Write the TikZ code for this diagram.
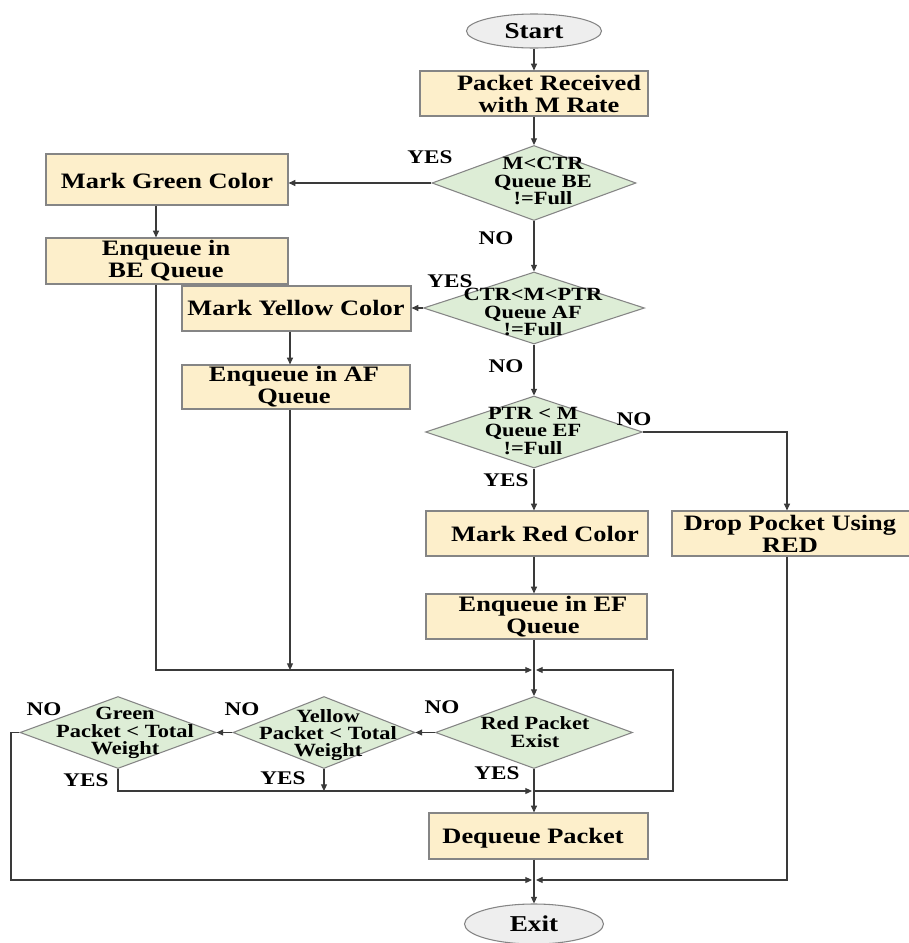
\documentclass[tikz,border=0pt]{standalone}
\usepackage{fontspec}
\setmainfont{Liberation Serif}[FakeStretch=1.2]
\usetikzlibrary{shapes.geometric,arrows.meta}
\definecolor{boxfill}{HTML}{FDEFCB}
\definecolor{diafill}{HTML}{DDEDD6}
\definecolor{ellfill}{HTML}{EEEEEE}
\definecolor{edgec}{HTML}{858585}
\definecolor{wirec}{HTML}{3A3A3A}
\begin{document}
\begin{tikzpicture}[x=0.75pt,y=-0.75pt,
 box/.style={draw=edgec, line width=0.9pt, fill=boxfill, inner sep=0pt},
 dia/.style={draw=edgec, line width=0.8pt, fill=diafill, diamond, inner sep=0pt},
 ell/.style={draw=edgec, line width=0.8pt, fill=ellfill, ellipse, inner sep=0pt, font=\bfseries\fontsize{17}{13}\selectfont},
 bt/.style={font=\bfseries\fontsize{16.5}{16.5}\selectfont, align=center, inner sep=0pt},
 dt/.style={font=\bfseries\fontsize{14}{13}\selectfont, align=center, inner sep=0pt},
 lab/.style={font=\bfseries\fontsize{14.5}{15}\selectfont, inner sep=0pt},
 wire/.style={draw=wirec, line width=0.8pt},
 arr/.style={wire, -{Triangle[length=5pt,width=4.5pt]}},
]
\useasboundingbox (0,0) rectangle (909,943);

% nodes
\node[ell, minimum width={135*0.75pt}, minimum height={34*0.75pt}] (start) at (534,31) {Start};

\node[box, minimum width={228*0.75pt}, minimum height={45*0.75pt}] (rec) at (534,93.5) {};
\node[bt] (rect) at (549,94) {Packet Received\\with M Rate};

\node[dia, minimum width={204*0.75pt}, minimum height={75*0.75pt}] (d1) at (534,183) {};
\node[dt] (d1t) at (543,181) {M<CTR\\Queue BE\\!=Full};

\node[box, minimum width={242*0.75pt}, minimum height={51*0.75pt}] (green) at (167,179.5) {};
\node[bt] (greent) at (167,181) {Mark Green Color};

\node[box, minimum width={242*0.75pt}, minimum height={46*0.75pt}] (beq) at (167,261) {};
\node[bt] (beqt) at (166,261) {Enqueue in\\BE Queue};

\node[dia, minimum width={221*0.75pt}, minimum height={72*0.75pt}] (d2) at (534,308) {};
\node[dt] (d2t) at (533,312) {CTR<M<PTR\\Queue AF\\!=Full};

\node[box, minimum width={229*0.75pt}, minimum height={45*0.75pt}] (yellow) at (296.5,308.5) {};
\node[bt] (yellowt) at (296,308) {Mark Yellow Color};

\node[box, minimum width={228*0.75pt}, minimum height={44*0.75pt}] (afq) at (296,387) {};
\node[bt] (afqt) at (294,387) {Enqueue in AF\\Queue};

\node[dia, minimum width={217*0.75pt}, minimum height={72*0.75pt}] (d3) at (534,432) {};
\node[dt] (d3t) at (533,431) {PTR < M\\Queue EF\\!=Full};

\node[box, minimum width={222*0.75pt}, minimum height={45*0.75pt}] (red) at (537,533.5) {};
\node[bt] (redt) at (545,533.5) {Mark Red Color};

\node[box, minimum width={240*0.75pt}, minimum height={45*0.75pt}] (drop) at (792,533.5) {};
\node[bt] (dropt) at (790,533.5) {Drop Pocket Using\\RED};

\node[box, minimum width={221*0.75pt}, minimum height={45*0.75pt}] (efq) at (536.5,616.5) {};
\node[bt] (efqt) at (543,616.5) {Enqueue in EF\\Queue};

\node[dia, minimum width={197*0.75pt}, minimum height={72*0.75pt}] (rd) at (534,732.5) {};
\node[dt] (rdt) at (535,732) {Red Packet\\Exist};

\node[dia, minimum width={182*0.75pt}, minimum height={72*0.75pt}] (yd) at (324,732.5) {};
\node[dt] (ydt) at (328,735) {Yellow\\Packet < Total\\Weight};

\node[dia, minimum width={196*0.75pt}, minimum height={72*0.75pt}] (gd) at (118,732.5) {};
\node[dt] (gdt) at (125,733) {Green\\Packet < Total\\Weight};

\node[box, minimum width={219*0.75pt}, minimum height={46*0.75pt}] (deq) at (538.5,836) {};
\node[bt] (deqt) at (533,838) {Dequeue Packet};

\node[ell, minimum width={139*0.75pt}, minimum height={40*0.75pt}] (exit) at (534,924) {Exit};

% helper coordinates
\coordinate (j1) at (534,670);
\coordinate (j3) at (534,791);
\coordinate (j2) at (534,880);
\coordinate (gx) at (156,0);
\coordinate (yx) at (290,0);
\coordinate (rx) at (673,0);
\coordinate (lx) at (11,0);
\coordinate (dx) at (787,0);

% connectors
\draw[arr] (start) -- (rec);
\draw[arr] (rec) -- (d1);
\draw[arr] (d1.west) -- (d1.west -| green.east);
\draw[arr] (d1) -- (d2);
\draw[arr] (green.south -| gx) -- (beq.north -| gx);
\draw[arr] (d2.west) -- (d2.west -| yellow.east);
\draw[arr] (yellow.south -| yx) -- (afq.north -| yx);
\draw[arr] (d2) -- (d3);
\draw[arr] (d3.east) -| (drop.north -| dx);
\draw[arr] (d3) -- (red.north -| d3);
\draw[arr] (red.south -| d3) -- (efq.north -| d3);
\draw[arr] (efq.south -| d3) -- (rd.north);
\draw[arr, shorten >=1.5pt] (beq.south -| gx) |- (j1);
\draw[arr] (afq.south -| yx) -- (yx |- j1);
\draw[arr, shorten >=1.5pt] (j3) -| (rx |- j1) -- (j1);
\draw[arr] (rd.west) -- (yd.east);
\draw[arr] (yd.west) -- (gd.east);
\draw[arr, shorten >=1.5pt] (gd.west) -- (lx |- gd.west) |- (j2);
\draw[arr, shorten >=1.5pt] (gd.south) |- (j3);
\draw[arr] (yd.south) -- (yd.south |- j3);
\draw[arr] (rd.south) -- (deq.north -| rd);
\draw[arr] (deq.south -| rd) -- (exit.north);
\draw[arr, shorten >=1.5pt] (drop.south -| dx) |- (j2);

% labels
\node[lab] (yes1) at (430,157) {YES};
\node[lab] (no1) at (496,238) {NO};
\node[lab] (yes2) at (450,281) {YES};
\node[lab] (no2) at (506,366) {NO};
\node[lab] (no3) at (634,419) {NO};
\node[lab] (yes3) at (506,480) {YES};
\node[lab] (no4) at (442,707) {NO};
\node[lab] (no5) at (242,709) {NO};
\node[lab] (no6) at (44,709) {NO};
\node[lab] (yes4) at (86,780) {YES};
\node[lab] (yes5) at (283,778) {YES};
\node[lab] (yes6) at (497,773) {YES};
\end{tikzpicture}
\end{document}
